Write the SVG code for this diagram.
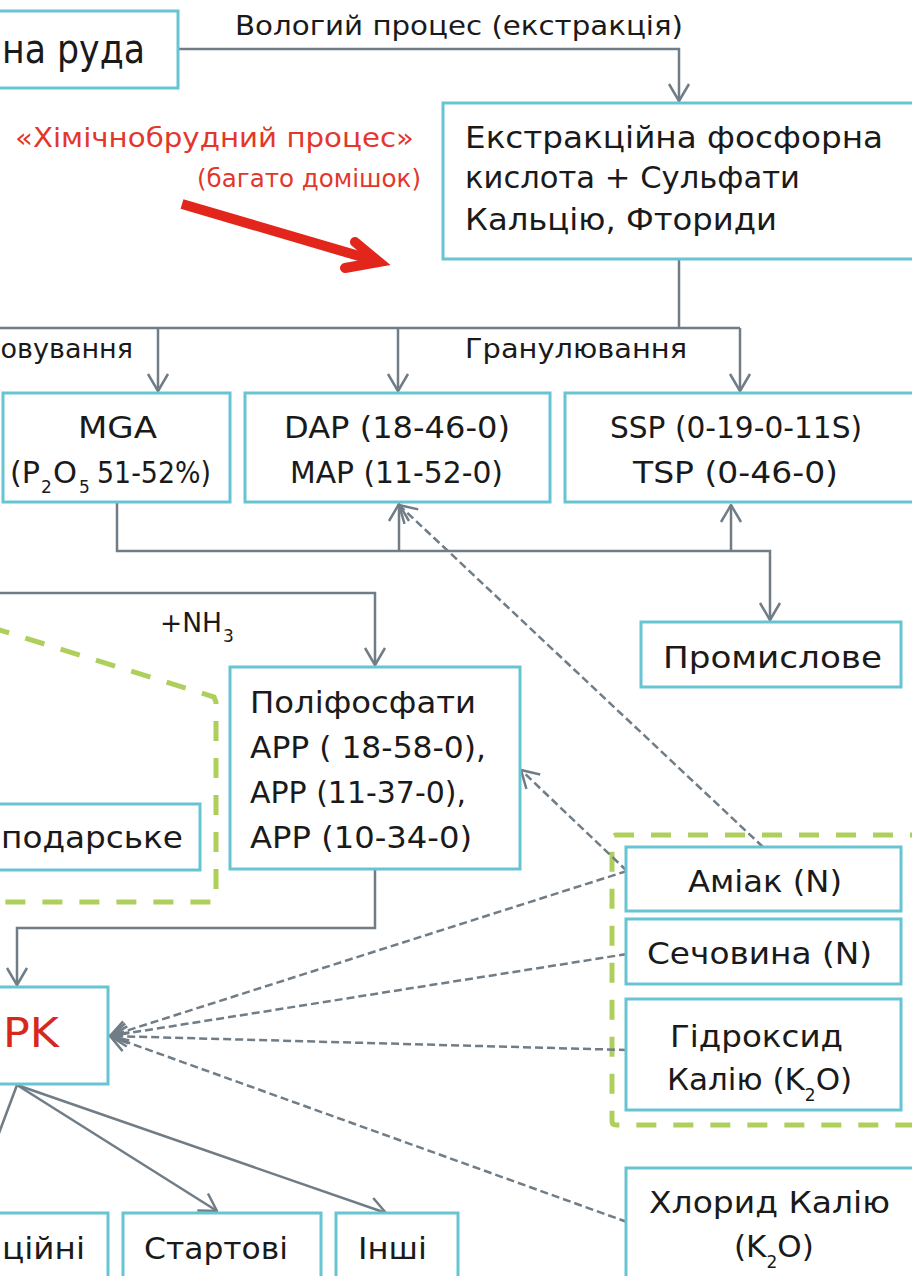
<svg xmlns="http://www.w3.org/2000/svg" width="912" height="1276" viewBox="0 0 912 1276">
<defs>
<style>
.box{fill:#fff;stroke:#67C4D2;stroke-width:3}
.t{font-family:"DejaVu Sans","Liberation Sans",sans-serif;fill:#1a1a1a;font-size:31px}
.lbl{font-size:27px}
.sub{font-size:17px}
.c{fill:none;stroke:#707D86;stroke-width:2.5}
.d{fill:none;stroke:#707D86;stroke-width:2.5;stroke-dasharray:8 4}
.g{fill:none;stroke:#AFCF5C;stroke-width:5;stroke-dasharray:20 17}
.red{fill:#E3372B}
</style>
<marker id="a" markerUnits="userSpaceOnUse" markerWidth="40" markerHeight="40" refX="0" refY="0" viewBox="-20 -20 40 40" orient="auto" overflow="visible">
<path d="M-17,-10 L0,0 L-17,10" fill="none" stroke="#707D86" stroke-width="2.5" stroke-linejoin="round"/>
</marker>
</defs>
<rect x="0" y="0" width="912" height="1276" fill="#fff"/>

<g id="groups">
<path class="g" d="M-10,627 L214,697 L216,702 L216,898 Q216,902 212,902 L-10,902"/>
<path class="g" d="M930,835 L616,835 Q612,835 612,839 L612,1121 Q612,1125 616,1125 L930,1125"/>
</g>

<g id="connectors">
<path class="c" d="M178,49 L679,49 L679,101" marker-end="url(#a)"/>
<path class="c" d="M679,259 L679,328"/>
<path class="c" d="M-10,328 L740,328"/>
<path class="c" d="M158,328 L158,391" marker-end="url(#a)"/>
<path class="c" d="M398,328 L398,391" marker-end="url(#a)"/>
<path class="c" d="M740,328 L740,391" marker-end="url(#a)"/>
<path class="c" d="M117,502 L117,551 L770,551 L770,620" marker-end="url(#a)"/>
<path class="c" d="M399,551 L399,504" marker-end="url(#a)"/>
<path class="c" d="M731,551 L731,505" marker-end="url(#a)"/>
<path class="c" d="M-10,593 L375,593 L375,665" marker-end="url(#a)"/>
<path class="c" d="M375,869 L375,928 L17,928 L17,985" marker-end="url(#a)"/>
<path class="c" d="M17,1085 L217,1211" marker-end="url(#a)"/>
<path class="c" d="M17,1085 L386,1213" marker-end="url(#a)"/>
<path class="c" d="M17,1085 L-31,1213" marker-end="url(#a)"/>
<path class="d" d="M763,847 L399,505" marker-end="url(#a)"/>
<path class="d" d="M627,871 L521,770" marker-end="url(#a)"/>
<path class="d" d="M627,871 L110,1036" marker-end="url(#a)"/>
<path class="d" d="M627,954 L110,1036" marker-end="url(#a)"/>
<path class="d" d="M627,1050 L110,1036" marker-end="url(#a)"/>
<path class="d" d="M627,1222 L110,1036" marker-end="url(#a)"/>
<text class="t lbl" x="235" y="35" textLength="448" lengthAdjust="spacingAndGlyphs">Вологий процес (екстракція)</text>
<text class="t lbl" x="133" y="358" text-anchor="end">овування</text>
<text class="t lbl" x="465" y="358" textLength="222" lengthAdjust="spacingAndGlyphs">Гранулювання</text>
<text class="t lbl"><tspan x="160" y="632" textLength="62" lengthAdjust="spacingAndGlyphs">+NH</tspan><tspan class="sub" x="223" y="642">3</tspan></text>
</g>

<g id="annotation">
<text class="t red" x="15" y="147" style="font-size:27px" textLength="399" lengthAdjust="spacingAndGlyphs">«Хімічнобрудний процес»</text>
<text class="t red" x="197" y="187" style="font-size:24px" textLength="224" lengthAdjust="spacingAndGlyphs">(багато домішок)</text>
<path d="M182,204 L376,261" fill="none" stroke="#E2261B" stroke-width="10"/>
<path d="M355,242 L379,262 L345,268" fill="none" stroke="#E2261B" stroke-width="10" stroke-linecap="round" stroke-linejoin="miter"/>
</g>

<g id="n_ore">
<rect class="box" x="-10" y="11" width="188" height="77"/>
<text class="t" x="2" y="63" style="font-size:40px" textLength="143" lengthAdjust="spacingAndGlyphs">на руда</text>
</g>

<g id="n_acid">
<rect class="box" x="443" y="103" width="480" height="156"/>
<text class="t" x="465" y="148" textLength="418" lengthAdjust="spacingAndGlyphs">Екстракційна фосфорна</text>
<text class="t" x="465" y="188" textLength="335" lengthAdjust="spacingAndGlyphs">кислота + Сульфати</text>
<text class="t" x="465" y="230" textLength="312" lengthAdjust="spacingAndGlyphs">Кальцію, Фториди</text>
</g>

<g id="n_mga">
<rect class="box" x="3" y="393" width="227" height="109"/>
<text class="t" x="78" y="438" textLength="79" lengthAdjust="spacingAndGlyphs">MGA</text>
<text class="t"><tspan x="10" y="483" textLength="30" lengthAdjust="spacingAndGlyphs">(P</tspan><tspan class="sub" x="41" y="493">2</tspan><tspan x="53" y="483" textLength="24" lengthAdjust="spacingAndGlyphs">O</tspan><tspan class="sub" x="79" y="493">5</tspan><tspan x="97" y="483" textLength="114" lengthAdjust="spacingAndGlyphs">51-52%)</tspan></text>
</g>

<g id="n_dap">
<rect class="box" x="245" y="393" width="305" height="109"/>
<text class="t" x="284" y="438" textLength="226" lengthAdjust="spacingAndGlyphs">DAP (18-46-0)</text>
<text class="t" x="290" y="483" textLength="213" lengthAdjust="spacingAndGlyphs">MAP (11-52-0)</text>
</g>

<g id="n_ssp">
<rect class="box" x="565" y="393" width="360" height="109"/>
<text class="t" x="610" y="438" textLength="252" lengthAdjust="spacingAndGlyphs">SSP (0-19-0-11S)</text>
<text class="t" x="633" y="483" textLength="205" lengthAdjust="spacingAndGlyphs">TSP (0-46-0)</text>
</g>

<g id="n_industrial">
<rect class="box" x="641" y="622" width="260" height="65"/>
<text class="t" x="663" y="668" textLength="219" lengthAdjust="spacingAndGlyphs">Промислове</text>
</g>

<g id="n_poly">
<rect class="box" x="230" y="667" width="290" height="202"/>
<text class="t" x="250" y="713" textLength="226" lengthAdjust="spacingAndGlyphs">Поліфосфати</text>
<text class="t" x="250" y="758" textLength="236" lengthAdjust="spacingAndGlyphs">APP ( 18-58-0),</text>
<text class="t" x="250" y="803" textLength="216" lengthAdjust="spacingAndGlyphs">APP (11-37-0),</text>
<text class="t" x="250" y="848" textLength="222" lengthAdjust="spacingAndGlyphs">APP (10-34-0)</text>
</g>

<g id="n_household">
<rect class="box" x="-10" y="804" width="210" height="66"/>
<text class="t" x="1" y="848" textLength="182" lengthAdjust="spacingAndGlyphs">подарське</text>
</g>

<g id="n_npk">
<rect class="box" x="-10" y="987" width="118" height="97"/>
<text class="t" x="3" y="1047" style="font-size:40px;fill:#D7281E" textLength="56" lengthAdjust="spacingAndGlyphs">PK</text>
</g>

<g id="n_fract">
<rect class="box" x="-10" y="1213" width="118" height="80"/>
<text class="t" x="2" y="1259" textLength="83" lengthAdjust="spacingAndGlyphs">ційні</text>
</g>

<g id="n_start">
<rect class="box" x="123" y="1213" width="198" height="80"/>
<text class="t" x="144" y="1259" textLength="144" lengthAdjust="spacingAndGlyphs">Стартові</text>
</g>

<g id="n_other">
<rect class="box" x="336" y="1213" width="122" height="80"/>
<text class="t" x="358" y="1259" textLength="69" lengthAdjust="spacingAndGlyphs">Інші</text>
</g>

<g id="n_ammonia">
<rect class="box" x="626" y="847" width="275" height="64"/>
<text class="t" x="688" y="892" textLength="154" lengthAdjust="spacingAndGlyphs">Аміак (N)</text>
</g>

<g id="n_urea">
<rect class="box" x="626" y="919" width="275" height="65"/>
<text class="t" x="647" y="964" textLength="225" lengthAdjust="spacingAndGlyphs">Сечовина (N)</text>
</g>

<g id="n_koh">
<rect class="box" x="626" y="999" width="275" height="111"/>
<text class="t" x="670" y="1047" textLength="173" lengthAdjust="spacingAndGlyphs">Гідроксид</text>
<text class="t" x="667" y="1090">Калію (K<tspan class="sub" dy="11">2</tspan><tspan dy="-11">O)</tspan></text>
</g>

<g id="n_kcl">
<rect class="box" x="626" y="1168" width="300" height="120"/>
<text class="t" x="649" y="1213" textLength="241" lengthAdjust="spacingAndGlyphs">Хлорид Калію</text>
<text class="t" x="734" y="1257">(K<tspan class="sub" dy="11">2</tspan><tspan dy="-11">O)</tspan></text>
</g>
</svg>
